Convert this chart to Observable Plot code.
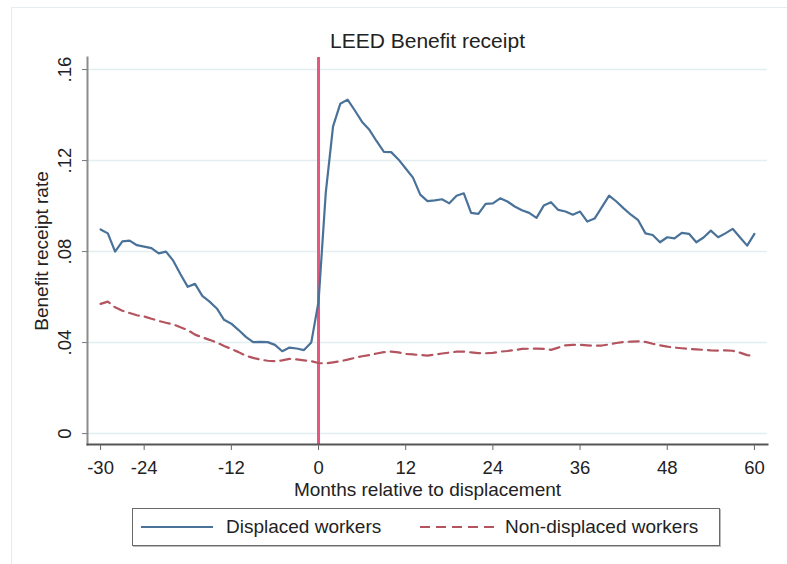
<!DOCTYPE html>
<html>
<head>
<meta charset="utf-8">
<script src="https://cdn.jsdelivr.net/npm/d3@7"></script>
<script src="https://cdn.jsdelivr.net/npm/@observablehq/plot@0.6"></script>
<style>
  html, body { margin: 0; padding: 0; background: #fff; }
  #wrap { position: relative; width: 787px; height: 564px; overflow: hidden; font-family: "Liberation Sans", Arial, sans-serif; }
  #frame { position: absolute; left: 11px; top: 7px; width: 800px; height: 600px; border-left: 1.5px solid #e6edf0; border-top: 1.5px solid #e6edf0; }
  #chart { position: absolute; left: 0; top: 0; }
  #legend { position: absolute; left: 132px; top: 508px; width: 586px; height: 36px; border: 1.5px solid #6a6a6a; box-shadow: 1px 1px 0 #bbb; background: #fff; }
  #legend svg { position: absolute; left: 0; top: 0; }
  .lt { position: absolute; top: 7px; font-size: 19px; color: #222; white-space: nowrap; line-height: 22px; }
</style>
</head>
<body>
<div id="wrap">
  <div id="frame"></div>
  <div id="chart"></div>
  <div id="legend">
    <svg width="586" height="36">
      <line x1="8" x2="80" y1="18" y2="18" stroke="#4a7299" stroke-width="2.2"/>
      <line x1="287" x2="361" y1="18" y2="18" stroke="#b3545f" stroke-width="2.2" stroke-dasharray="10,6"/>
    </svg>
    <span class="lt" style="left:93px">Displaced workers</span>
    <span class="lt" style="left:372px">Non-displaced workers</span>
  </div>
</div>
<script>
const months = d3.range(-30, 61);
const displaced = [
  0.0897, 0.0880, 0.0800, 0.0845, 0.0848, 0.0828, 0.0822, 0.0815, 0.0792, 0.0800,
  0.0760, 0.0700, 0.0645, 0.0658, 0.0605, 0.0580, 0.0550, 0.0500, 0.0483, 0.0455,
  0.0425, 0.0402, 0.0403, 0.0402, 0.0390, 0.0362, 0.0378, 0.0374, 0.0367, 0.0400,
  0.0580,
  0.1060, 0.1350, 0.1450, 0.1468, 0.1420, 0.1370, 0.1335, 0.1285, 0.1238, 0.1237,
  0.1205, 0.1165, 0.1125, 0.1050, 0.1022, 0.1025, 0.1030, 0.1012, 0.1045, 0.1056,
  0.0970, 0.0966, 0.1010, 0.1012, 0.1034, 0.1020, 0.0998, 0.0982, 0.0970, 0.0948,
  0.1002, 0.1017, 0.0983, 0.0976, 0.0962, 0.0976, 0.0932, 0.0945, 0.0995, 0.1046,
  0.1020, 0.0990, 0.0962, 0.0938, 0.0880, 0.0873, 0.0841, 0.0863, 0.0858, 0.0882,
  0.0878, 0.0841, 0.0862, 0.0892, 0.0863, 0.0880, 0.0900, 0.0863, 0.0826, 0.0878
];
const nonDisplaced = [
  0.0570, 0.0580, 0.0555, 0.0540, 0.0530, 0.0520, 0.0515, 0.0505, 0.0495, 0.0487,
  0.0480, 0.0467, 0.0455, 0.0435, 0.0423, 0.0412, 0.0400, 0.0385, 0.0372, 0.0358,
  0.0342, 0.0333, 0.0325, 0.0320, 0.0318, 0.0322, 0.0328, 0.0326, 0.0322, 0.0318,
  0.0310,
  0.0308, 0.0313, 0.0318, 0.0325, 0.0333, 0.0340, 0.0345, 0.0352, 0.0358, 0.0360,
  0.0357, 0.0350, 0.0348, 0.0345, 0.0343, 0.0347, 0.0352, 0.0356, 0.0360, 0.0360,
  0.0357, 0.0354, 0.0353, 0.0355, 0.0360, 0.0363, 0.0367, 0.0372, 0.0373, 0.0373,
  0.0372, 0.0368, 0.0378, 0.0388, 0.0390, 0.0390, 0.0388, 0.0386, 0.0387, 0.0392,
  0.0398, 0.0403, 0.0404, 0.0405, 0.0403, 0.0395, 0.0388, 0.0382, 0.0378, 0.0375,
  0.0372, 0.0370, 0.0368, 0.0366, 0.0365, 0.0366, 0.0364, 0.0356, 0.0345, 0.0342
];
const xTicks = [-30, -24, -12, 0, 12, 24, 36, 48, 60];
const yTicks = [0, 0.04, 0.08, 0.12, 0.16];
const eventMonth = [0];
const title = "LEED Benefit receipt";
const xLabel = "Months relative to displacement";
const yLabel = "Benefit receipt rate";

const dispData = months.map((m, i) => ({m, v: displaced[i]}));
const nonData = months.map((m, i) => ({m, v: nonDisplaced[i]}));
const yFmt = d => d === 0 ? "0" : d3.format(".2f")(d).replace(/^0/, "");

const chart = Plot.plot({
  width: 787,
  height: 564,
  marginLeft: 87,
  marginRight: 20,
  marginTop: 57,
  marginBottom: 120,
  style: {fontFamily: "'Liberation Sans', Arial, sans-serif", fontSize: "19px", background: "transparent", color: "#222"},
  x: {domain: [-31.8, 61.8]},
  y: {domain: [-0.0048, 0.1653]},
  marks: [
    Plot.gridY(yTicks, {stroke: "#e4edf1", strokeOpacity: 1, strokeWidth: 1.5}),
    Plot.ruleX(eventMonth, {stroke: "#e2587f", strokeWidth: 3}),
    Plot.line(dispData, {x: "m", y: "v", stroke: "#4a7299", strokeWidth: 2.2}),
    Plot.line(nonData, {x: "m", y: "v", stroke: "#b3545f", strokeWidth: 2.2, strokeDasharray: "10,6"}),
    Plot.frame({anchor: "left", stroke: "#8c8c8c", strokeWidth: 2}),
    Plot.frame({anchor: "bottom", stroke: "#555", strokeWidth: 2}),
    Plot.axisY(yTicks, {tickSize: 5, tickFormat: () => "", label: null, stroke: "#777"}),
    Plot.axisX(xTicks, {tickSize: 6, tickFormat: () => "", label: null, stroke: "#666"}),
    Plot.text(yTicks, {y: d => d, text: yFmt, frameAnchor: "left", dx: -22, rotate: -90, textAnchor: "middle", lineAnchor: "middle", fontSize: 18.5, fill: "#222"}),
    Plot.text(xTicks, {x: d => d, text: d => String(d), frameAnchor: "bottom", dy: 24, textAnchor: "middle", lineAnchor: "middle", fontSize: 18.5, fill: "#222"}),
    Plot.text([xLabel], {text: d => d, frameAnchor: "bottom", dy: 45, textAnchor: "middle", lineAnchor: "middle", fontSize: 19, fill: "#222"}),
    Plot.text([yLabel], {text: d => d, frameAnchor: "left", dx: -45.5, rotate: -90, textAnchor: "middle", lineAnchor: "middle", fontSize: 19, fill: "#222"}),
    Plot.text([title], {text: d => d, frameAnchor: "top", dy: -16, textAnchor: "middle", lineAnchor: "middle", fontSize: 21, fill: "#222"})
  ]
});
document.getElementById("chart").appendChild(chart);
</script>
</body>
</html>
